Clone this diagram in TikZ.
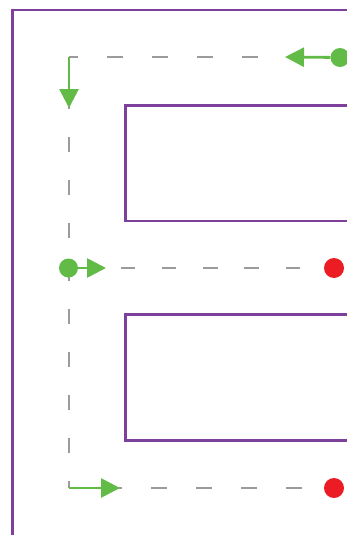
\documentclass[tikz,border=0pt]{standalone}
\usepackage{tikz}
\usetikzlibrary{arrows.meta,positioning}
\definecolor{wallpurple}{RGB}{125,64,155}
\definecolor{movegreen}{RGB}{98,187,70}
\definecolor{stopred}{RGB}{236,28,36}
\definecolor{trackgray}{RGB}{155,155,155}

\begin{document}
\begin{tikzpicture}[x=1pt,y=-1pt,
  wall/.style={line width=2.3pt, wallpurple},
  track/.style={line width=2.2pt, trackgray},
  move/.style={line width=2.8pt, movegreen, -{Triangle[length=19pt,width=19pt]}},
  gdot/.style={circle, fill=movegreen, inner sep=0pt, minimum size=19pt},
  rdot/.style={circle, fill=stopred, inner sep=0pt, minimum size=20pt}]
\clip (0,0) rectangle (347,535);
% Outer wall and the two shelves
\draw[wall] (12.5,9.7) rectangle (420,536.4);
\draw[wall] (125.5,105.5) rectangle (420,221);
\draw[wall] (125.5,314.5) rectangle (420,440.5);
% Corners and arrow tips
\coordinate (tl) at (69,57);
\coordinate (bl) at (69,488);
\coordinate (h1) at (285,57);
\coordinate (h0) at (69,108);
\coordinate (h2) at (106,268);
\coordinate (h3) at (120,488);
% Dashed route
\draw[track, dash pattern=on 16.7pt off 28.3pt, dash phase=18.3pt] (h1) -- (tl);
\draw[track, dash pattern=on 15pt off 28pt, dash phase=6pt] (tl) -- (bl);
\draw[track, dash pattern=on 16pt off 29pt, dash phase=8pt] (bl) -- (334,488);
% Start and stop points
\node[gdot] (s1) at (340,57.5) {};
\node[gdot] (s2) at (68.5,268) {};
\node[rdot] (e2) at (334,268) {};
\node[rdot] (e3) at (334,488) {};
\draw[track, dash pattern=on 14.5pt off 26.8pt, dash phase=-1pt] (s2) -- (e2);
% Moves
\draw[move] (s1) -- (h1);
\draw[move] (tl) -- (h0);
\draw[move] (s2) -- (h2);
\draw[move] (bl) -- (h3);
\end{tikzpicture}
\end{document}
